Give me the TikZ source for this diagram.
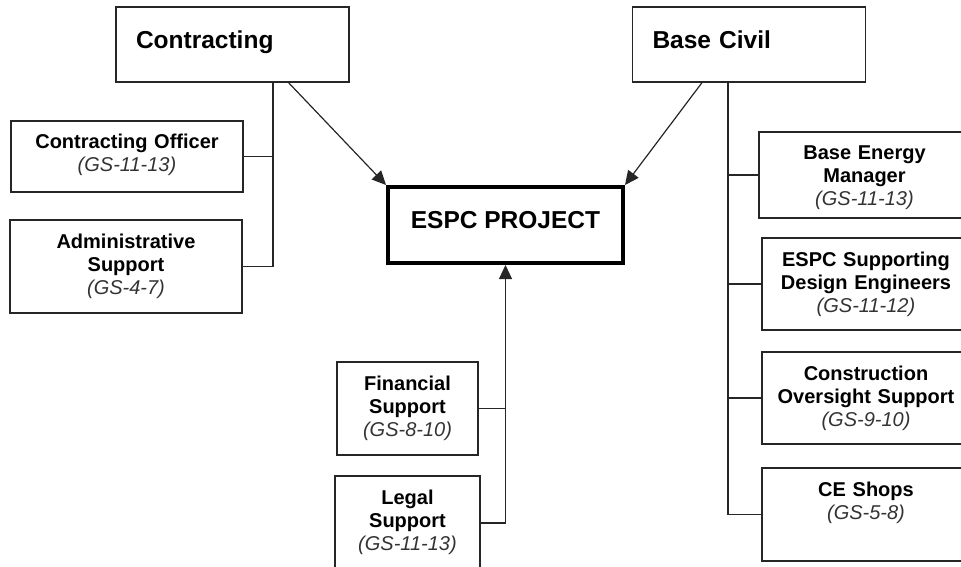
\documentclass[tikz,border=0pt]{standalone}
\usepackage{fontspec}
\setmainfont{Liberation Sans}
\usepackage{tikz}
\usetikzlibrary{arrows.meta}
\tikzstyle{head} = [rectangle, draw=black!85, line width=1.2pt, text width=193pt, inner xsep=20pt, inner ysep=0pt, align=left, text height=42pt, text depth=33pt, font=\fontsize{24.5}{28}\selectfont\bfseries]
\tikzstyle{project} = [rectangle, draw=black, line width=4pt, minimum width=235pt, inner ysep=0pt, text height=41pt, text depth=35pt, text centered, font=\fontsize{24.5}{28}\selectfont\bfseries]
\tikzstyle{unit} = [rectangle, draw=black!85, line width=1.2pt, inner xsep=4pt, inner ysep=0pt, align=center, text height=28pt, font=\fontsize{20}{23}\selectfont\bfseries]
\tikzstyle{arrow} = [line width=1.2pt, draw=black!85, -{Triangle[length=14pt, width=13pt]}]
\tikzstyle{line} = [line width=1.2pt, draw=black!85]
\newcommand{\grade}[1]{{\normalfont\itshape\color{black!80}(#1)}}

\begin{document}
\begin{tikzpicture}[x=1pt, y=-1pt]
\useasboundingbox (0,0) rectangle (961,567);
\node (contr) [head] at (232.5,44.5) {Contracting};
\node (civil) [head] at (749,44.5) {Base Civil};
\node (espc) [project] at (505.5,225) {ESPC PROJECT};
\node (officer) [unit, text width=224pt, text depth=43pt] at (127,156.5) {Contracting Officer\\\grade{GS-11-13}};
\node (admin) [unit, text width=224pt, text depth=65pt] at (126,266.5) {Administrative\\Support\\\grade{GS-4-7}};
\node (fin) [unit, text width=133pt, text depth=65pt] at (407.5,408.5) {Financial\\Support\\\grade{GS-8-10}};
\node (legal) [unit, text width=137pt, text depth=66pt] at (407.5,523) {Legal\\Support\\\grade{GS-11-13}};
\node (manager) [unit, text width=203pt, text depth=58pt] at (864.5,175) {Base Energy\\Manager\\\grade{GS-11-13}};
\node (design) [unit, text width=200pt, text depth=64pt] at (866,284) {ESPC Supporting\\Design Engineers\\\grade{GS-11-12}};
\node (oversight) [unit, text width=200pt, text depth=64pt] at (866,398) {Construction\\Oversight Support\\\grade{GS-9-10}};
\node (shops) [unit, text width=200pt, text depth=65pt] at (866,514.5) {CE Shops\\\grade{GS-5-8}};
\coordinate (cbus) at ([xshift=40.5pt]contr.south);
\coordinate (bbus) at ([xshift=-21pt]civil.south);

\draw [arrow]([xshift=56pt]contr.south) -- (espc.north west);
\draw [arrow]([xshift=-47pt]civil.south) -- (espc.north east);
\draw [line](cbus) |- (officer.east);
\draw [line](cbus) |- (admin.east);
\draw [line](bbus) |- (manager.west);
\draw [line](bbus) |- (design.west);
\draw [line](bbus) |- (oversight.west);
\draw [line](bbus) |- (shops.west);
\draw [line](fin.east) -- (fin.east -| espc.south);
\draw [arrow](legal.east) -| (espc.south);
\end{tikzpicture}
\end{document}
